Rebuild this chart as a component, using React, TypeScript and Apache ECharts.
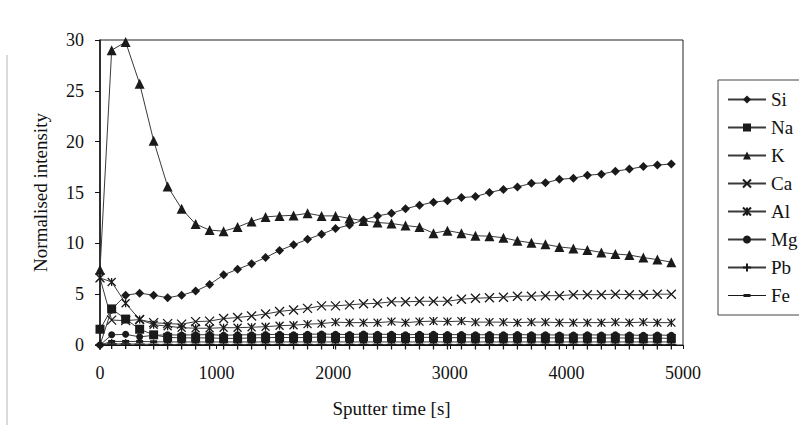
import React, { useEffect, useRef } from "react";
import * as echarts from "echarts";

// Sputter time of each measurement [s]
const sputterTime = [
  0, 100, 220, 340, 460, 580, 700, 820, 940, 1060, 1180, 1300, 1420, 1540,
  1660, 1780, 1900, 2020, 2140, 2260, 2380, 2500, 2620, 2740, 2860, 2980,
  3100, 3220, 3340, 3460, 3580, 3700, 3820, 3940, 4060, 4180, 4300, 4420,
  4540, 4660, 4780, 4900,
];

// Normalised intensities per element
const si = [
  0, 3.5, 4.9, 5.1, 4.9, 4.65, 4.9, 5.3, 5.95, 6.9, 7.45, 8.0, 8.6, 9.3, 9.85,
  10.4, 10.9, 11.45, 11.8, 12.3, 12.7, 12.95, 13.4, 13.75, 14.05, 14.2, 14.5,
  14.6, 15.0, 15.3, 15.55, 15.9, 15.95, 16.3, 16.4, 16.7, 16.8, 17.1, 17.3,
  17.55, 17.7, 17.8,
];
const na = [
  1.55, 3.55, 2.55, 1.55, 1.0, 0.75, 0.7, 0.7, 0.7, 0.65, 0.65, 0.7, 0.72,
  0.75, 0.72, 0.75, 0.78, 0.75, 0.75, 0.78, 0.75, 0.75, 0.72, 0.75, 0.75, 0.72,
  0.72, 0.7, 0.72, 0.7, 0.72, 0.7, 0.7, 0.7, 0.68, 0.7, 0.68, 0.7, 0.68, 0.65,
  0.68, 0.65,
];
const k = [
  7.4, 29.0, 29.8, 25.7, 20.1, 15.6, 13.4, 11.9, 11.3, 11.2, 11.6, 12.15, 12.6,
  12.7, 12.75, 12.95, 12.7, 12.7, 12.45, 12.2, 12.05, 11.95, 11.75, 11.6, 11.0,
  11.25, 11.0, 10.75, 10.7, 10.55, 10.25, 10.05, 9.9, 9.65, 9.5, 9.35, 9.1,
  8.95, 8.85, 8.6, 8.4, 8.15,
];
const ca = [
  6.6, 2.45, 2.4, 2.5, 2.2, 2.1, 2.05, 2.3, 2.35, 2.6, 2.7, 2.85, 3.05, 3.3,
  3.45, 3.6, 3.85, 3.85, 3.95, 4.05, 4.1, 4.25, 4.25, 4.3, 4.3, 4.3, 4.5, 4.6,
  4.65, 4.7, 4.8, 4.8, 4.85, 4.85, 4.95, 4.95, 4.95, 5.0, 4.95, 4.95, 5.0, 5.0,
];
const al = [
  6.6, 6.2, 4.1, 2.5, 2.0, 1.85, 1.7, 1.65, 1.65, 1.7, 1.7, 1.75, 1.8, 1.9,
  1.95, 2.05, 2.1, 2.25, 2.2, 2.2, 2.2, 2.3, 2.2, 2.3, 2.35, 2.3, 2.35, 2.25,
  2.25, 2.25, 2.2, 2.25, 2.25, 2.2, 2.2, 2.2, 2.2, 2.25, 2.2, 2.25, 2.2, 2.2,
];
const mg = [
  0, 1.0, 1.05, 0.8, 0.95, 1.0, 0.98, 1.0, 1.02, 0.95, 1.0, 1.0, 1.02, 1.05,
  1.0, 1.05, 1.08, 1.05, 1.02, 1.08, 1.05, 1.05, 1.0, 1.05, 1.05, 1.02, 1.02,
  1.0, 1.02, 1.0, 1.02, 1.0, 1.0, 0.98, 0.98, 1.0, 0.98, 1.0, 0.98, 0.95, 0.98,
  0.95,
];
const pb = [
  0, 0.1, 0.1, 0.08, 0.06, 0.05, 0.05, 0.05, 0.05, 0.05, 0.05, 0.05, 0.05,
  0.05, 0.05, 0.05, 0.05, 0.05, 0.05, 0.05, 0.05, 0.05, 0.05, 0.05, 0.05, 0.05,
  0.05, 0.05, 0.05, 0.05, 0.05, 0.05, 0.05, 0.05, 0.05, 0.05, 0.05, 0.05, 0.05,
  0.05, 0.05, 0.05,
];
const fe = [
  0, 0.35, 0.35, 0.35, 0.32, 0.3, 0.3, 0.3, 0.3, 0.3, 0.3, 0.3, 0.3, 0.3, 0.3,
  0.3, 0.3, 0.3, 0.3, 0.3, 0.3, 0.3, 0.3, 0.3, 0.3, 0.3, 0.3, 0.3, 0.3, 0.3,
  0.3, 0.3, 0.3, 0.3, 0.3, 0.3, 0.3, 0.3, 0.3, 0.3, 0.3, 0.3,
];

const xAxisMax = 5000;
const xAxisStep = 1000;
const yAxisMax = 30;
const yAxisStep = 5;

const SERIF = '"Liberation Serif", "Times New Roman", serif';
const INK = "#1a1a1a";
const LINE = "#3a3a3a";

// Marker shapes
const CROSS = "path://M0 0L10 10M10 0L0 10";
const STAR = "path://M0 0L10 10M10 0L0 10M5 0L5 10";
const PLUS = "path://M5 0L5 10M1 5L9 5";
// Legend sample for the dash marker: thin line with a short bar in the middle
const DASH_KEY = "path://M0 4.6L38 4.6L38 5.4L0 5.4Z M15.5 3.4L22.5 3.4L22.5 6.6L15.5 6.6Z";

type Spec = {
  name: string;
  values: number[];
  symbol: string;
  size: number | number[];
  stroke?: boolean;
  legendIcon?: string;
};

const specs: Spec[] = [
  { name: "Si", values: si, symbol: "diamond", size: 9 },
  { name: "Na", values: na, symbol: "rect", size: 9 },
  { name: "K", values: k, symbol: "triangle", size: 10 },
  { name: "Ca", values: ca, symbol: CROSS, size: 9, stroke: true },
  { name: "Al", values: al, symbol: STAR, size: 8, stroke: true },
  { name: "Mg", values: mg, symbol: "circle", size: 7 },
  { name: "Pb", values: pb, symbol: PLUS, size: 10, stroke: true },
  { name: "Fe", values: fe, symbol: "rect", size: [7, 3], legendIcon: DASH_KEY },
];

export default function App() {
  const ref = useRef<HTMLDivElement>(null);

  useEffect(() => {
    if (!ref.current) return;
    const chart = echarts.init(ref.current, undefined, { renderer: "svg" });

    const series = specs.map((s) => ({
      name: s.name,
      type: "line",
      data: sputterTime.map((t, i) => [t, s.values[i]]),
      symbol: s.symbol,
      symbolSize: s.size,
      showAllSymbol: true,
      clip: false,
      lineStyle: { color: LINE, width: 1 },
      itemStyle: {
        color: INK,
        borderColor: INK,
        borderWidth: s.stroke ? 1.3 : 0,
      },
      emphasis: { disabled: true },
    }));

    chart.setOption({
      animation: false,
      backgroundColor: "#ffffff",
      grid: {
        left: 100,
        right: 116,
        top: 40,
        bottom: 93,
        show: true,
        borderColor: "#222",
        borderWidth: 1,
        backgroundColor: "transparent",
      },
      xAxis: {
        type: "value",
        min: 0,
        max: xAxisMax,
        interval: xAxisStep,
        name: "Sputter time [s]",
        nameLocation: "middle",
        nameGap: 54,
        nameTextStyle: { fontFamily: SERIF, fontSize: 19, color: "#111" },
        axisLine: { show: true, lineStyle: { color: "#111", width: 1 } },
        axisTick: { show: true, length: 4, lineStyle: { color: "#111" } },
        axisLabel: {
          fontFamily: SERIF,
          fontSize: 18,
          color: "#111",
          margin: 19,
          formatter: (v: number) => String(v),
        },
        splitLine: { show: false },
      },
      yAxis: {
        type: "value",
        min: 0,
        max: yAxisMax,
        interval: yAxisStep,
        name: "Normalised intensity",
        nameLocation: "middle",
        nameGap: 50,
        nameTextStyle: { fontFamily: SERIF, fontSize: 19, color: "#111" },
        axisLine: { show: true, lineStyle: { color: "#111", width: 1.5 } },
        axisTick: { show: true, length: 5, lineStyle: { color: "#111" } },
        axisLabel: {
          fontFamily: SERIF,
          fontSize: 18,
          color: "#111",
          margin: 16,
        },
        splitLine: { show: false },
      },
      legend: {
        orient: "vertical",
        left: 718,
        top: 80,
        padding: [10, 12, 10, 9],
        itemWidth: 38,
        itemHeight: 10,
        itemGap: 9,
        borderColor: "#444",
        borderWidth: 1,
        backgroundColor: "#fff",
        textStyle: { fontFamily: SERIF, fontSize: 19, color: "#111" },
        data: specs.map((s) =>
          s.legendIcon
            ? { name: s.name, icon: s.legendIcon, itemStyle: { color: INK, borderWidth: 0 } }
            : { name: s.name }
        ),
      },
      graphic: [
        {
          type: "line",
          shape: { x1: 7, y1: 55, x2: 7, y2: 425 },
          style: { stroke: "#b5b5b5", lineWidth: 1 },
          silent: true,
        },
      ],
      series,
    });

    return () => chart.dispose();
  }, []);

  return (
    <div
      ref={ref}
      style={{ position: "fixed", left: 0, top: 0, width: 799, height: 438 }}
    />
  );
}
